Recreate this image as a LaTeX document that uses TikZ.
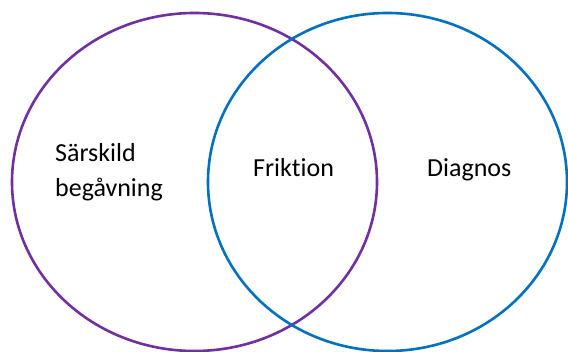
\documentclass[tikz,border=0pt]{standalone}
\usepackage{fontspec}
\setmainfont{Carlito}[Ligatures=NoCommon]
\usetikzlibrary{shapes.geometric}
\definecolor{lila}{HTML}{7030A0}
\definecolor{blaa}{HTML}{0070C0}
\tikzset{
  mengd/.style={ellipse, draw, line width=2.6pt, inner sep=0pt},
  etikett/.style={font=\fontsize{26}{35}\selectfont, inner sep=0pt, align=left}
}
\begin{document}
\begin{tikzpicture}[x=1pt, y=-1pt]
  \useasboundingbox (0,0) rectangle (568,352);
  % de två mängderna
  \node[mengd, draw=lila, minimum width=365pt, minimum height=338pt] (begavning) at (194.5,182) {};
  \node[mengd, draw=blaa, minimum width=359pt, minimum height=338pt] (diagnos) at (387.5,182) {};
  % texter
  \node[etikett, anchor=base west] (sarskild) at (55,197) {Särskild\\begåvning};
  \node[etikett, anchor=base west] (friktion) at (253,177) {Friktion};
  \node[etikett, anchor=base west] (diag) at (427,177) {Diagnos};
\end{tikzpicture}
\end{document}
